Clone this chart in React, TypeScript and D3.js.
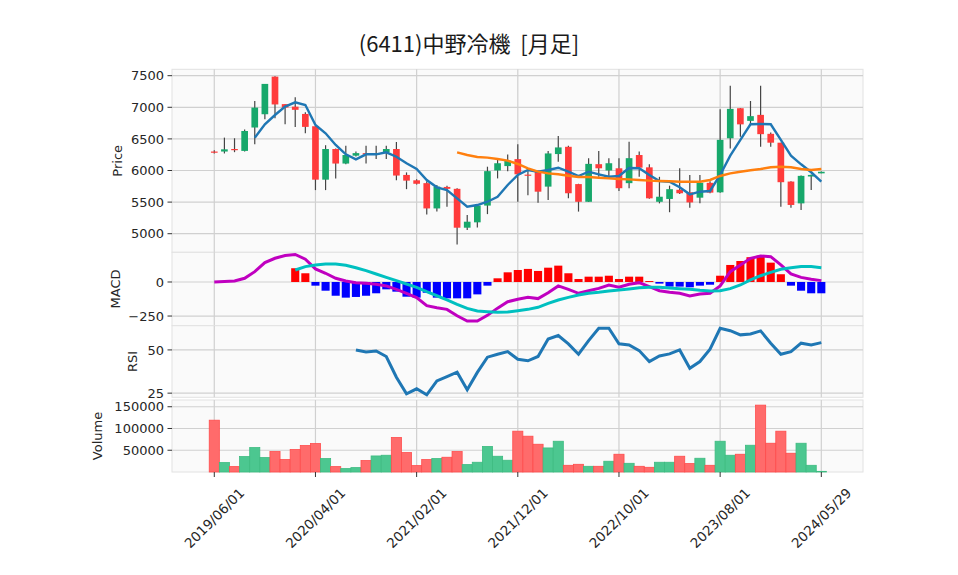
import React, { useEffect, useRef } from 'react';
import * as d3 from 'd3';

// monthly bars, index 0..60
const title = '(6411)中野冷機  [月足]';
const tickIdx = [0, 10, 20, 30, 40, 50, 60];
const tickLabels = ['2019/06/01', '2020/04/01', '2021/02/01', '2021/12/01', '2022/10/01', '2023/08/01', '2024/05/29'];

const opens = [6300, 6300, 6340, 6310, 6680, 6890, 7485, 7050, 7010, 6895, 6700, 5855, 6340, 6110, 6235, 6275, 6245, 6290, 6340, 5930,
  5845, 5800, 5400, 5740, 5710, 5095, 5180, 5445, 6000, 6070, 6180, 5935, 5990, 5745, 6260, 6375, 5785, 5505, 6100, 6000,
  6035, 5800, 6245, 6050, 5505, 5550, 5695, 5655, 5570, 5805, 5655, 6510, 6985, 6785, 6880, 6580, 6440, 5825, 5480, 5905, 5955];
const highs = [6320, 6520, 6510, 6650, 7100, 7370, 7490, 7050, 7160, 6920, 6700, 6400, 6350, 6390, 6300, 6390, 6390, 6390, 6450, 5970,
  5860, 5830, 5770, 5760, 5720, 5295, 5450, 6060, 6180, 6255, 6415, 6010, 6000, 6310, 6545, 6390, 5790, 6195, 6310, 6195,
  6195, 6455, 6300, 6100, 5900, 5760, 6035, 5930, 5930, 5830, 6970, 7340, 6990, 7100, 7340, 6600, 6440, 5830, 5920, 5935, 5985];
const lows = [6270, 6270, 6290, 6300, 6415, 6810, 6825, 6730, 6690, 6590, 5690, 5690, 5875, 6100, 6220, 6110, 6180, 6180, 5845, 5705,
  5780, 5305, 5350, 5425, 4830, 5060, 5100, 5310, 5875, 5990, 5505, 5610, 5490, 5535, 6140, 5560, 5350, 5500, 5900, 5900,
  5675, 5720, 5900, 5555, 5480, 5340, 5630, 5410, 5480, 5640, 5650, 6350, 6535, 6710, 6375, 6375, 5425, 5410, 5375, 5690, 5955];
const closes = [6290, 6335, 6330, 6625, 6995, 7370, 7045, 6995, 6960, 6690, 5855, 6340, 6110, 6245, 6275, 6260, 6275, 6340, 5920, 5840,
  5790, 5400, 5745, 5710, 5095, 5190, 5445, 5990, 6115, 6155, 5940, 5925, 5665, 6270, 6365, 5640, 5505, 6105, 6035, 6115,
  5720, 6195, 6045, 5560, 5585, 5705, 5640, 5495, 5805, 5650, 6485, 6975, 6730, 6860, 6575, 6440, 5815, 5455, 5915, 5930, 5980];
const volumes = [119100, 21700, 12400, 35500, 56200, 33200, 47000, 28600, 51600, 60800, 65400, 30900, 12400, 7800, 10100, 26300, 36900, 38500, 79300, 44700,
  14700, 28600, 30900, 33900, 47000, 17000, 22400, 58800, 36200, 27000, 93800, 82300, 63800, 55300, 70700, 15400, 17700, 13100, 13100, 24700,
  40800, 20000, 13100, 10800, 22400, 22400, 36200, 19300, 31600, 15400, 70700, 38500, 40800, 61500, 153700, 66100, 93800, 43100, 66100, 15400, 1500];

const ma5 = [null, null, null, null, 6519, 6731, 6878, 7010, 7079, 7036, 6720, 6589, 6404, 6256, 6177, 6256, 6256, 6288, 6218, 6114,
  6024, 5850, 5734, 5692, 5560, 5427, 5454, 5506, 5585, 5771, 5929, 6008, 5981, 6008, 6044, 5981, 5913, 5981, 5940, 5902,
  5913, 6040, 6035, 5929, 5834, 5823, 5734, 5623, 5665, 5676, 5929, 6234, 6483, 6731, 6736, 6731, 6483, 6234, 6098, 5972, 5823];
const ma25 = [null, null, null, null, null, null, null, null, null, null, null, null, null, null, null, null, null, null, null, null,
  null, null, null, null, 6288, 6245, 6214, 6203, 6182, 6156, 6103, 6035, 5981, 5955, 5940, 5918, 5897, 5897, 5886, 5876,
  5865, 5860, 5850, 5840, 5834, 5829, 5823, 5823, 5823, 5850, 5913, 5955, 5981, 6003, 6024, 6051, 6060, 6051, 6024, 6008, 6024];

const macd = [0, 3, 7, 27, 76, 142, 174, 194, 202, 167, 96, 64, 27, 7, -5, -10, -17, -29, -54, -83,
  -115, -174, -189, -201, -248, -287, -287, -245, -192, -145, -127, -113, -122, -79, -29, -54, -83, -64, -47, -22,
  -39, -17, -5, -34, -64, -76, -83, -103, -88, -83, -29, 76, 125, 174, 191, 186, 125, 59, 34, 20, 10];
const signal = [null, null, null, null, null, null, null, null, 88, 113, 125, 132, 132, 123, 105, 83, 59, 34, 10, -15,
  -39, -71, -101, -132, -164, -194, -213, -218, -222, -220, -211, -201, -186, -157, -132, -113, -96, -83, -76, -66,
  -59, -51, -42, -39, -39, -44, -49, -54, -61, -66, -64, -49, -22, 15, 46, 71, 93, 105, 113, 113, 105];
const hist = [null, null, null, null, null, null, null, null, 101, 64, -27, -64, -101, -115, -110, -101, -83, -54, -71, -108,
  -115, -79, -115, -120, -120, -120, -91, -27, 27, 71, 88, 96, 81, 105, 120, 64, 22, 39, 39, 46,
  22, 39, 39, 7, -12, -34, -34, -39, -27, -20, 46, 125, 154, 182, 194, 142, 57, -27, -64, -83, -83];
const rsi = [null, null, null, null, null, null, null, null, null, null, null, null, null, null, 50.0, 48.8, 49.4, 46.2, 34.2, 24.6,
  27.5, 24.0, 32.1, 34.6, 37.1, 26.9, 37.0, 45.8, 47.5, 49.0, 44.6, 43.7, 46.2, 56.3, 58.3, 53.5, 47.5, 55.4, 62.5, 62.5,
  53.5, 52.9, 49.6, 43.3, 46.5, 47.7, 50.0, 39.4, 43.3, 50.4, 62.5, 61.1, 58.7, 59.2, 61.0, 53.9, 47.5, 49.0, 53.9, 52.9, 54.2];

const priceTicks = [5000, 5500, 6000, 6500, 7000, 7500];
const macdTicks = [0, -250];
const rsiTicks = [25, 50];
const volTicks = [50000, 100000, 150000];

const UP = '#17a86b';
const DOWN = '#ff3b3b';
const FONT = 'DejaVu Sans';

export default function App() {
  const ref = useRef<SVGSVGElement>(null);

  useEffect(() => {
    const svg = d3.select(ref.current);
    svg.selectAll('*').remove();

    const left = 172, right = 863;
    const x = d3.scaleLinear().domain([-4.18, 64.12]).range([left, right]);
    const step = x(1) - x(0);

    const panels = [
      { key: 'price', top: 69.3, bottom: 252.3, domain: [4706, 7601], ticks: priceTicks, label: 'Price', lx: 117, fmt: (v: number) => String(v) },
      { key: 'macd', top: 252.3, bottom: 325.7, domain: [-321, 218], ticks: macdTicks, label: 'MACD', lx: 115, fmt: (v: number) => (v < 0 ? '\u2212' + Math.abs(v) : String(v)) },
      { key: 'rsi', top: 325.7, bottom: 397.3, domain: [22.6, 64], ticks: rsiTicks, label: 'RSI', lx: 132, fmt: (v: number) => String(v) },
      { key: 'vol', top: 400, bottom: 472, domain: [0, 165500], ticks: volTicks, label: 'Volume', lx: 97, fmt: (v: number) => String(v) },
    ];

    const ys: Record<string, d3.ScaleLinear<number, number>> = {};

    panels.forEach((p) => {
      const y = d3.scaleLinear().domain(p.domain).range([p.bottom, p.top]);
      ys[p.key] = y;
      const g = svg.append('g');
      g.append('rect')
        .attr('x', left).attr('y', p.top)
        .attr('width', right - left).attr('height', p.bottom - p.top)
        .attr('fill', '#fafafa').attr('stroke', '#e2e2e2').attr('stroke-width', 1);

      // grid
      g.selectAll('.hg').data(p.ticks).enter().append('line')
        .attr('x1', left).attr('x2', right)
        .attr('y1', (d) => y(d)).attr('y2', (d) => y(d))
        .attr('stroke', '#d0d0d0').attr('stroke-width', 1.2);
      g.selectAll('.vg').data(tickIdx).enter().append('line')
        .attr('x1', (d) => x(d)).attr('x2', (d) => x(d))
        .attr('y1', p.top).attr('y2', p.bottom)
        .attr('stroke', '#d0d0d0').attr('stroke-width', 1.2);

      // y ticks
      g.selectAll('.tk').data(p.ticks).enter().append('line')
        .attr('x1', left - 4.5).attr('x2', left)
        .attr('y1', (d) => y(d)).attr('y2', (d) => y(d))
        .attr('stroke', '#333').attr('stroke-width', 1);
      g.selectAll('.tl').data(p.ticks).enter().append('text')
        .attr('x', left - 8).attr('y', (d) => y(d))
        .attr('dy', '0.36em')
        .attr('text-anchor', 'end')
        .attr('font-family', FONT).attr('font-size', 13).attr('fill', '#262626')
        .text((d) => p.fmt(d));

      g.append('text')
        .attr('transform', `translate(${p.lx},${(p.top + p.bottom) / 2}) rotate(-90)`)
        .attr('text-anchor', 'middle').attr('dy', '0.36em')
        .attr('font-family', FONT).attr('font-size', 13).attr('fill', '#262626')
        .text(p.label);
    });

    // candles
    const yp = ys.price;
    const cg = svg.append('g');
    const idx = d3.range(opens.length);
    cg.selectAll('.wick').data(idx).enter().append('line')
      .attr('x1', (i) => x(i)).attr('x2', (i) => x(i))
      .attr('y1', (i) => yp(highs[i])).attr('y2', (i) => yp(lows[i]))
      .attr('stroke', '#444').attr('stroke-width', 1.2);
    cg.selectAll('.body').data(idx).enter().append('rect')
      .attr('x', (i) => x(i) - step * 0.33)
      .attr('width', step * 0.66)
      .attr('y', (i) => yp(Math.max(opens[i], closes[i])))
      .attr('height', (i) => Math.max(1.2, Math.abs(yp(opens[i]) - yp(closes[i]))))
      .attr('fill', (i) => (closes[i] >= opens[i] ? UP : DOWN));

    const lineOf = (y: d3.ScaleLinear<number, number>) =>
      d3.line<number | null>()
        .defined((d) => d !== null)
        .x((_, i) => x(i))
        .y((d) => y(d as number));

    svg.append('path').attr('d', lineOf(yp)(ma5)).attr('fill', 'none')
      .attr('stroke', '#1f77b4').attr('stroke-width', 2.4);
    svg.append('path').attr('d', lineOf(yp)(ma25)).attr('fill', 'none')
      .attr('stroke', '#ff7f0e').attr('stroke-width', 2.4);

    // MACD
    const ym = ys.macd;
    svg.append('g').selectAll('rect').data(idx.filter((i) => hist[i] !== null)).enter().append('rect')
      .attr('x', (i) => x(i) - step * 0.4)
      .attr('width', step * 0.8)
      .attr('y', (i) => Math.min(ym(0), ym(hist[i] as number)))
      .attr('height', (i) => Math.abs(ym(0) - ym(hist[i] as number)))
      .attr('fill', (i) => ((hist[i] as number) >= 0 ? '#ff0000' : '#0000ff'));
    svg.append('path').attr('d', lineOf(ym)(macd)).attr('fill', 'none')
      .attr('stroke', '#c000c0').attr('stroke-width', 3);
    svg.append('path').attr('d', lineOf(ym)(signal)).attr('fill', 'none')
      .attr('stroke', '#00c0c0').attr('stroke-width', 3);

    // RSI
    svg.append('path').attr('d', lineOf(ys.rsi)(rsi)).attr('fill', 'none')
      .attr('stroke', '#1f77b4').attr('stroke-width', 3);

    // volume
    const yv = ys.vol;
    svg.append('g').selectAll('rect').data(idx).enter().append('rect')
      .attr('x', (i) => x(i) - step / 2)
      .attr('width', step)
      .attr('y', (i) => yv(volumes[i]))
      .attr('height', (i) => yv(0) - yv(volumes[i]))
      .attr('fill', (i) => (closes[i] >= opens[i] ? '#4cc790' : '#ff6b6b'))
      .attr('stroke', (i) => (closes[i] >= opens[i] ? '#3dbb80' : '#ff4c4c'))
      .attr('stroke-width', 0.8);

    // x axis
    const xa = svg.append('g');
    xa.selectAll('line').data(tickIdx).enter().append('line')
      .attr('x1', (d) => x(d)).attr('x2', (d) => x(d))
      .attr('y1', 472).attr('y2', 477)
      .attr('stroke', '#333').attr('stroke-width', 1);
    xa.selectAll('text').data(tickIdx).enter().append('text')
      .attr('transform', (d) => `translate(${x(d)},518) rotate(-45)`)
      .attr('text-anchor', 'middle').attr('dy', '0.36em')
      .attr('font-family', FONT).attr('font-size', 13.5).attr('fill', '#262626')
      .text((_, i) => tickLabels[i]);

    svg.append('text')
      .attr('x', 469).attr('y', 52)
      .attr('text-anchor', 'middle')
      .style('white-space', 'pre')
      .attr('font-family', "'Noto Sans CJK JP', sans-serif").attr('font-size', 22).attr('fill', '#1a1a1a')
      .text(title);
  }, []);

  return (
    <svg ref={ref} width={958} height={575}
      style={{ position: 'absolute', left: 0, top: 0, background: '#ffffff' }} />
  );
}
